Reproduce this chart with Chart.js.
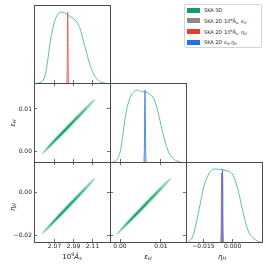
<!DOCTYPE html>
<html>
<head>
<meta charset="utf-8">
<script src="https://cdn.jsdelivr.net/npm/chart.js@4.4.1/dist/chart.umd.min.js"></script>
<style>
  html, body { margin: 0; padding: 0; background: #fff; }
  #wrap { position: relative; width: 266px; height: 266px; overflow: hidden; font-family: "DejaVu Sans", sans-serif; color: #222; }
  canvas { position: absolute; left: 0; top: 0; }
  .lab { position: absolute; font-size: 7px; white-space: nowrap; transform: translate(-50%, -50%); line-height: 1; }
  .rot { transform: translate(-50%, -50%) rotate(-90deg); }
  sub { font-size: 70%; vertical-align: -0.3em; line-height: 0; }
  sup { font-size: 70%; vertical-align: 0.5em; line-height: 0; }
  #leg { position: absolute; left: 184px; top: 4px; width: 76px; height: 42px; border: 1px solid #d4d4d4; border-radius: 2px; background: #fff; }
  .row { position: absolute; left: 0; height: 8px; width: 76px; }
  .patch { position: absolute; left: 2px; top: 1.5px; width: 13px; height: 5px; }
  .txt { position: absolute; left: 19px; top: 0; font-size: 5px; line-height: 8px; white-space: nowrap; }
</style>
</head>
<body>
<div id="wrap">
  <canvas id="c1" width="266" height="266"></canvas>
  <canvas id="c2" width="266" height="266"></canvas>
  <canvas id="c3" width="266" height="266"></canvas>
  <canvas id="c4" width="266" height="266"></canvas>
  <canvas id="c5" width="266" height="266"></canvas>
  <canvas id="c6" width="266" height="266"></canvas>

  <div class="lab" style="left:72px;top:257px">10<sup>9</sup><i>Ã</i><sub>s</sub></div>
  <div class="lab" style="left:148px;top:257px"><i>ε</i><sub><i>H</i></sub></div>
  <div class="lab" style="left:222px;top:257px"><i>η</i><sub><i>H</i></sub></div>
  <div class="lab rot" style="left:12.5px;top:123px"><i>ε</i><sub><i>H</i></sub></div>
  <div class="lab rot" style="left:12.5px;top:207px"><i>η</i><sub><i>H</i></sub></div>

  <div id="leg">
    <div class="row" style="top:1px"><div class="patch" style="background:#139c6c"></div><div class="txt">SKA 3D</div></div>
    <div class="row" style="top:11.7px"><div class="patch" style="background:#8a8a8a"></div><div class="txt">SKA 2D 10<sup>9</sup>Ã<sub>s</sub>, <i>ε</i><sub><i>H</i></sub></div></div>
    <div class="row" style="top:22.5px"><div class="patch" style="background:#e5402f"></div><div class="txt">SKA 2D 10<sup>9</sup>Ã<sub>s</sub>, <i>η</i><sub><i>H</i></sub></div></div>
    <div class="row" style="top:33.3px"><div class="patch" style="background:#1a73e8"></div><div class="txt">SKA 2D <i>ε</i><sub><i>H</i></sub>,<i>η</i><sub><i>H</i></sub></div></div>
  </div>
</div>
<script>
// axis ranges
const aRange = [2.0484, 2.1284];
const epsRange = [-0.00244, 0.0161];
const etaXRange = [-0.02395, 0.0151];
const etaYRange = [-0.0231, 0.0141];

// ticks
const aTicks = [2.07, 2.09, 2.11];
const aLabels = ['2.07', '2.09', '2.11'];
const epsTicks = [0.0, 0.01];
const epsLabels = ['0.00', '0.01'];
const etaXTicks = [-0.015, 0.0];
const etaXLabels = ['\u22120.015', '0.000'];
const etaYTicks = [-0.02, 0.0];
const etaYLabels = ['\u22120.02', '0.00'];

// 1D marginals, SKA 3D
const aGrid = [2.0529, 2.0582, 2.0618, 2.0642, 2.0670, 2.0705, 2.0740, 2.0768, 2.0803, 2.0845, 2.0898, 2.0934, 2.0968, 2.1003, 2.1039, 2.1074, 2.1108, 2.1144, 2.1190, 2.1232];
const aDens = [0, 0.04, 0.23, 0.46, 0.70, 0.88, 0.98, 1.0, 0.99, 0.955, 0.91, 0.86, 0.77, 0.60, 0.42, 0.25, 0.14, 0.06, 0.01, 0];
const epsGrid = [-0.00164, -0.00081, -0.00017, 0.00041, 0.00098, 0.00163, 0.00244, 0.00324, 0.00422, 0.00529, 0.00651, 0.00773, 0.00854, 0.00934, 0.01017, 0.01098, 0.01178, 0.01261, 0.01366, 0.01463];
const epsDens = [0, 0.03, 0.10, 0.26, 0.50, 0.73, 0.89, 0.97, 1.0, 0.98, 0.97, 0.92, 0.84, 0.68, 0.47, 0.29, 0.15, 0.07, 0.02, 0];
const etaGrid = [-0.02276, -0.02100, -0.01930, -0.01759, -0.01583, -0.01413, -0.01190, -0.00984, -0.00725, -0.00467, -0.00208, -0.00032, 0.00138, 0.00309, 0.00485, 0.00655, 0.00826, 0.01002, 0.01224, 0.01431];
const etaDens = [0, 0.05, 0.19, 0.40, 0.63, 0.82, 0.95, 1.0, 1.0, 0.99, 0.97, 0.94, 0.84, 0.68, 0.47, 0.28, 0.14, 0.07, 0.02, 0];

// 1D marginals, SKA 2D (very narrow)
const peakDens = [0, 0.2, 0.8, 1.0, 0.8, 0.2, 0];
const redAGrid = [2.0829, 2.0833, 2.0836, 2.0839, 2.0842, 2.0845, 2.0849];
const blueEpsGrid = [0.00585, 0.00595, 0.00603, 0.00610, 0.00617, 0.00625, 0.00635];
const redEtaGrid = [-0.00610, -0.00590, -0.00575, -0.00560, -0.00545, -0.00530, -0.00510];
const redEtaDens = [0, 0.19, 0.76, 0.95, 0.76, 0.19, 0];
const blueEtaGrid = [-0.00570, -0.00550, -0.00535, -0.00520, -0.00505, -0.00490, -0.00470];

// 2D contours, SKA 3D (outer = 95%, inner = 68%)
const aEpsOutA = [2.0565, 2.0629, 2.0745, 2.0860, 2.0970, 2.1078, 2.1126, 2.1062, 2.0946, 2.0832, 2.0721, 2.0613, 2.0565];
const aEpsOutE = [-0.0006, 0.00051, 0.00301, 0.00556, 0.00817, 0.01083, 0.0123, 0.01119, 0.00869, 0.00614, 0.00353, 0.00087, -0.0006];
const aEpsInA = [2.0610, 2.0739, 2.0880, 2.1042, 2.0868, 2.0727, 2.0610];
const aEpsInE = [0.00043, 0.00314, 0.00637, 0.01037, 0.00663, 0.00340, 0.00043];

const aEtaOutA = [2.0565, 2.0629, 2.0745, 2.0860, 2.0970, 2.1078, 2.1126, 2.1062, 2.0946, 2.0832, 2.0721, 2.0613, 2.0565];
const aEtaOutH = [-0.0195, -0.01725, -0.01221, -0.00708, -0.00181, 0.00355, 0.0065, 0.00425, -0.00079, -0.00592, -0.01119, -0.01655, -0.0195];
const aEtaInA = [2.0610, 2.0739, 2.0880, 2.1042, 2.0868, 2.0727, 2.0610];
const aEtaInH = [-0.0174, -0.01196, -0.00546, 0.0026, -0.00494, -0.01144, -0.0174];

const epsEtaOutE = [-0.0008, 0.00071, 0.00343, 0.00611, 0.00870, 0.01124, 0.01237, 0.01086, 0.00814, 0.00547, 0.00287, 0.00033, -0.0008];
const epsEtaOutH = [-0.0195, -0.01726, -0.01222, -0.00708, -0.00182, 0.00355, 0.0065, 0.00426, -0.00078, -0.00592, -0.01118, -0.01655, -0.0195];
const epsEtaInE = [0.00025, 0.00329, 0.00658, 0.01039, 0.00630, 0.00301, 0.00025];
const epsEtaInH = [-0.0174, -0.01196, -0.00546, 0.0026, -0.00494, -0.01144, -0.0174];

const FONT = 'DejaVu Sans';
const AXC = '#4a4a4a';
const GREEN_LINE = '#55c49c';
const OUT_FILL = '#8ad4b2';
const IN_FILL = '#16a068';

const zip = (xs, ys) => xs.map((x, i) => ({ x: x, y: ys[i] }));

const frame = {
    id: 'frame',
    afterDraw(c) {
        const a = c.chartArea, ctx = c.ctx;
        ctx.save();
        ctx.strokeStyle = AXC;
        ctx.lineWidth = 1;
        ctx.strokeRect(a.left + 0.5, a.top + 0.5, a.right - a.left, a.bottom - a.top);
        ctx.restore();
    }
};

// size: space reserved for the tick labels outside the panel
function axis(pos, range, ticks, labels, showLabels, show) {
    const horiz = pos === 'bottom' || pos === 'top';
    const size = showLabels ? (horiz ? 12 : 30) : 0;
    return {
        type: 'linear', position: pos, min: range[0], max: range[1], display: show,
        _size: size,
        afterFit: s => { if (horiz) s.height = size; else s.width = size; },
        afterBuildTicks: s => { s.ticks = ticks.map(v => ({ value: v })); },
        ticks: {
            display: showLabels, autoSkip: false, maxRotation: 0,
            callback: (v, i) => labels[i],
            font: { family: FONT, size: 6 }, color: '#222',
            padding: horiz ? 4 : 5
        },
        grid: { drawOnChartArea: false, tickLength: -3, color: AXC, lineWidth: 0.8 },
        border: { display: false }
    };
}

function curve(pts, color, width, fillColor) {
    return {
        data: pts, showLine: true, pointRadius: 0, borderColor: color, borderWidth: width,
        backgroundColor: fillColor || 'transparent', fill: fillColor ? 'origin' : false, tension: 0.4
    };
}

function blob(pts, color, bw) {
    return {
        data: pts, showLine: true, pointRadius: 0, borderColor: color, borderWidth: bw,
        backgroundColor: color, fill: 'shape', tension: 0.3
    };
}

// first dataset in the list ends up on top
function panel(id, box, scales, datasets) {
    const padL = box[0] - (scales.y.display ? scales.y._size : 0);
    const padB = 266 - box[3] - scales.x._size;
    return new Chart(document.getElementById(id), {
        type: 'scatter',
        data: { datasets: datasets },
        options: {
            responsive: false, animation: false, devicePixelRatio: 1,
            layout: { padding: { left: padL, top: box[1], right: 266 - box[2], bottom: padB } },
            plugins: { legend: { display: false }, tooltip: { enabled: false } },
            scales: scales
        },
        plugins: [frame]
    });
}

const DY = [0, 1.1];
const RED_L = 'rgba(222,70,58,0.9)', RED_F = 'rgba(235,120,110,0.35)';
const BLUE_L = 'rgba(30,110,225,0.9)', BLUE_F = 'rgba(60,130,235,0.35)';

// diag A_s
panel('c1', [34, 5, 110, 83], {
    x: axis('bottom', aRange, aTicks, aLabels, false, true),
    y: axis('left', DY, [], [], false, false)
}, [
    curve(zip(redAGrid, peakDens), RED_L, 0.8, RED_F),
    curve(zip(aGrid, aDens), GREEN_LINE, 1)
]);

// A_s vs eps_H
panel('c2', [34, 83, 110, 162], {
    x: axis('bottom', aRange, aTicks, aLabels, false, true),
    x2: axis('top', aRange, aTicks, aLabels, false, true),
    y: axis('left', epsRange, epsTicks, epsLabels, true, true),
    y2: axis('right', epsRange, epsTicks, epsLabels, false, true)
}, [
    blob(zip(aEpsInA, aEpsInE), IN_FILL, 0),
    blob(zip(aEpsOutA, aEpsOutE), OUT_FILL, 0.5)
]);

// diag eps_H
panel('c3', [110, 83, 186, 162], {
    x: axis('bottom', epsRange, epsTicks, epsLabels, false, true),
    y: axis('left', DY, [], [], false, false)
}, [
    curve(zip(blueEpsGrid, peakDens), BLUE_L, 0.8, BLUE_F),
    curve(zip(epsGrid, epsDens), GREEN_LINE, 1)
]);

// A_s vs eta_H
panel('c4', [34, 162, 110, 242], {
    x: axis('bottom', aRange, aTicks, aLabels, true, true),
    x2: axis('top', aRange, aTicks, aLabels, false, true),
    y: axis('left', etaYRange, etaYTicks, etaYLabels, true, true),
    y2: axis('right', etaYRange, etaYTicks, etaYLabels, false, true)
}, [
    blob(zip(aEtaInA, aEtaInH), IN_FILL, 0),
    blob(zip(aEtaOutA, aEtaOutH), OUT_FILL, 0.5)
]);

// eps_H vs eta_H
panel('c5', [110, 162, 186, 242], {
    x: axis('bottom', epsRange, epsTicks, epsLabels, true, true),
    x2: axis('top', epsRange, epsTicks, epsLabels, false, true),
    y: axis('left', etaYRange, etaYTicks, etaYLabels, false, true),
    y2: axis('right', etaYRange, etaYTicks, etaYLabels, false, true)
}, [
    blob(zip(epsEtaInE, epsEtaInH), IN_FILL, 0),
    blob(zip(epsEtaOutE, epsEtaOutH), OUT_FILL, 0.5)
]);

// diag eta_H
panel('c6', [186, 162, 262, 242], {
    x: axis('bottom', etaXRange, etaXTicks, etaXLabels, true, true),
    y: axis('left', DY, [], [], false, false)
}, [
    curve(zip(blueEtaGrid, peakDens), BLUE_L, 0.8, BLUE_F),
    curve(zip(redEtaGrid, redEtaDens), RED_L, 0.8, RED_F),
    curve(zip(etaGrid, etaDens), GREEN_LINE, 1)
]);
</script>
</body>
</html>
